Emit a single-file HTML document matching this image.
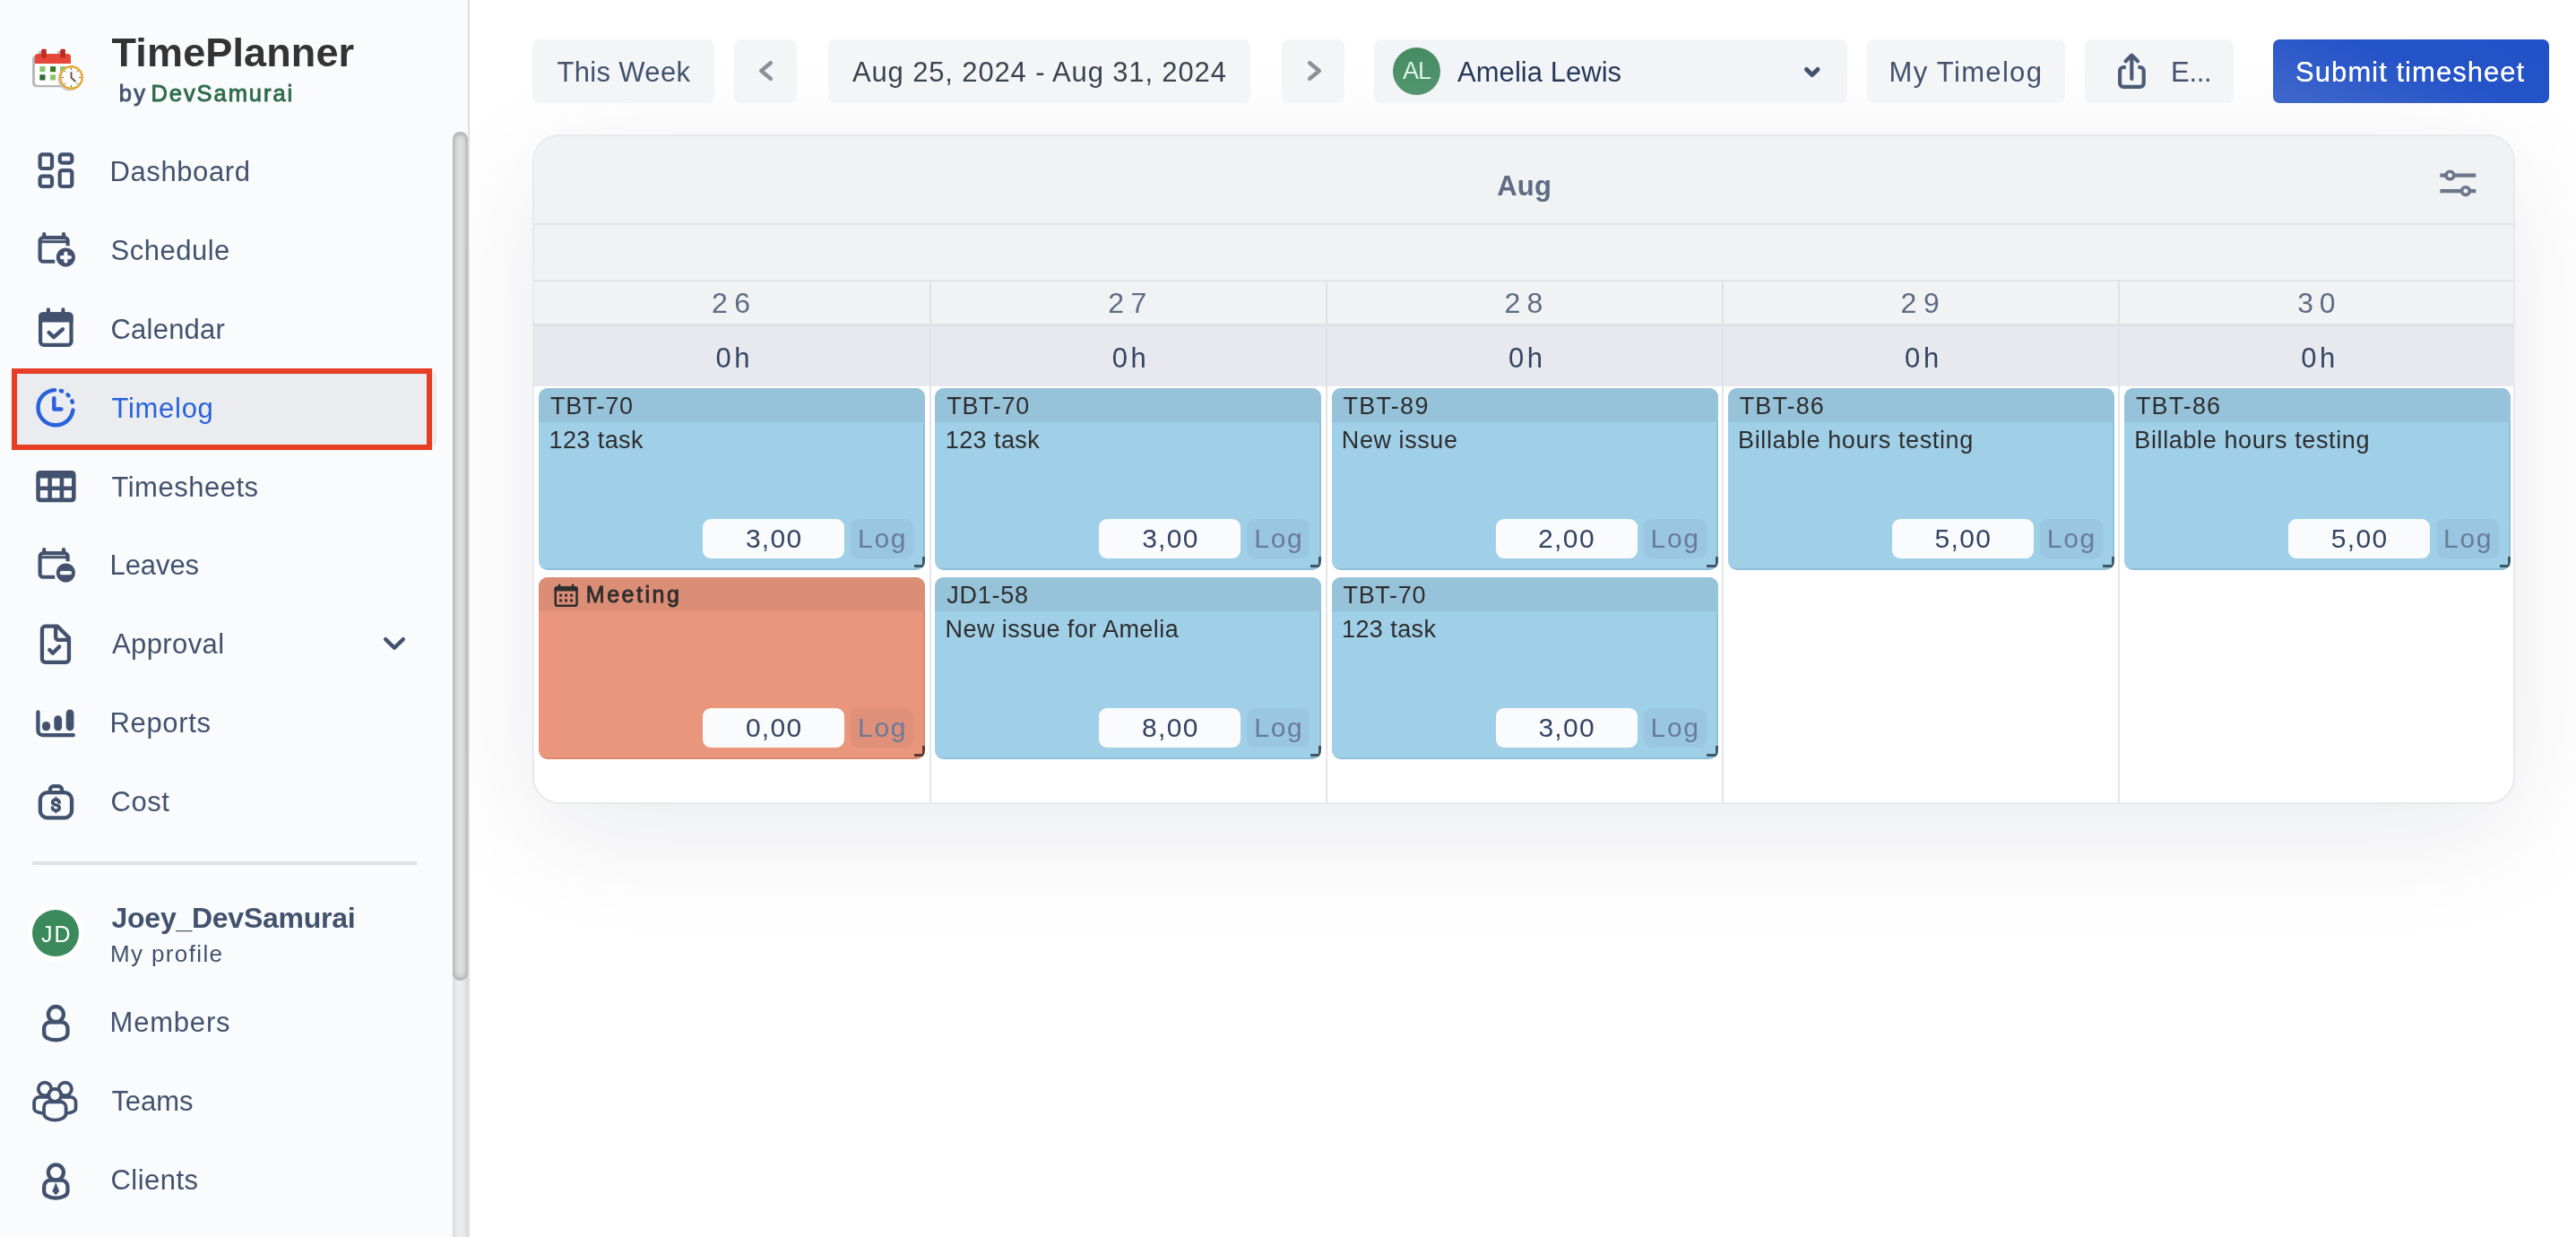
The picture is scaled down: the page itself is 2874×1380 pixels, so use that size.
<!DOCTYPE html><html lang="en"><head><meta charset="utf-8"><title>TimePlanner - Timelog</title><style>
*{box-sizing:border-box;margin:0;padding:0}
html,body{width:2874px;height:1380px;overflow:hidden;background:#fff}
body{will-change:transform}
body{position:relative;font-family:"Liberation Sans", sans-serif;-webkit-font-smoothing:antialiased}
div,span.t,svg{position:absolute}
span.t{white-space:nowrap;line-height:1}
.btn{background:#F4F5F7;border-radius:7px}
.card{border-radius:10px;overflow:hidden}
.card .hd{left:0;top:0;width:100%;height:38px}
.card .inp{left:183px;top:146px;width:158px;height:44px;border-radius:9px;background:#FAFBFC}
.card .log{left:348px;top:146px;width:70px;height:44px;border-radius:9px;background:rgba(9,30,66,.045)}
.card .rs{left:418.5px;top:187.5px;width:12.5px;height:12.5px;border-right:3.5px solid #3f5868;border-bottom:3.5px solid #3f5868}
.blue{background:#A0CFE8;box-shadow:inset -2px -2px 0 rgba(30,80,110,.13)}
.blue .hd{background:#97C3DA}
.red{background:#E9967C;box-shadow:inset -2px -2px 0 rgba(120,40,20,.13)}
.red .hd{background:#DC8D76}
.red .rs{border-color:#5a3a32}
</style></head><body>
<div style="left:594px;top:150px;width:2212px;height:747px;border-radius:30px;box-shadow:0 34px 130px rgba(15,25,55,.085);background:#fff"></div>
<aside>
<div style="left:0px;top:0px;width:524px;height:1380px;background:#FAFBFC;border-right:2px solid #DDDFE4"></div>
<div style="left:505px;top:1080px;width:17px;height:300px;background:linear-gradient(90deg,#d9dadb 0,#e6e7e8 22%,#ecedee 50%,#e6e7e8 75%,#d8d9da 100%)"></div>
<div style="left:505px;top:147px;width:17px;height:947px;border-radius:9px;background:#DEE0E0;box-shadow:inset 0 0 7px rgba(0,0,0,.4)"></div>
<svg style="left:30px;top:48px" width="70" height="58" viewBox="30 48 70 58" fill="none"><rect x="36.1" y="61.6" width="42.9" height="35.6" rx="4.5" fill="#B3B6B8"/><rect x="43.1" y="57" width="4" height="5" fill="#B5BABA"/><rect x="64.2" y="57" width="4" height="5" fill="#B5BABA"/><path d="M38.9 70h40.1v21.9a3 3 0 0 1-3 3H42.4a3.5 3.5 0 0 1-3.5-3.5z" fill="#fff"/><path d="M38.9 71V63.5a3.5 3.5 0 0 1 3.5-3.5H75.5a3.5 3.5 0 0 1 3.5 3.5V71z" fill="#E5483A"/><rect x="46.2" y="54.8" width="5.6" height="9.8" rx="1.2" fill="#BC2B1F"/><rect x="67.3" y="54.8" width="5.6" height="9.8" rx="1.2" fill="#BC2B1F"/><rect x="44.3" y="74" width="6.2" height="6.3" rx=".8" fill="#8DC56F"/><rect x="56" y="74" width="6.2" height="6.3" rx=".8" fill="#3E7B22"/><rect x="67" y="74" width="6.2" height="6.3" rx=".8" fill="#8DC56F"/><rect x="44.3" y="83.3" width="6.2" height="6.3" rx=".8" fill="#2F6A3A"/><rect x="56" y="83.3" width="6.2" height="6.3" rx=".8" fill="#8DC56F"/><circle cx="77.6" cy="88.2" r="13.2" fill="#C3C5C8" opacity=".85"/><circle cx="79.5" cy="86.4" r="12.2" fill="#FBFCFE" stroke="#E8A838" stroke-width="2.5"/><path d="M79.50 77.80L79.50 75.80M85.58 80.32L87.00 78.90M88.10 86.40L90.10 86.40M85.58 92.48L87.00 93.90M79.50 95.00L79.50 97.00M73.42 92.48L72.00 93.90M70.90 86.40L68.90 86.40M73.42 80.32L72.00 78.90" stroke="#6b5645" stroke-width="1"/><path d="M79.5 80.3V86.6L84.3 91" stroke="#5E4A3A" stroke-width="1.8" stroke-linejoin="round"/></svg>
<span class="t" style="left:124.55px;top:35.68px;font-size:45px;color:#333;font-weight:700;letter-spacing:0.130px;">TimePlanner</span>
<span class="t" style="left:132.64px;top:92.40px;font-size:25.5px;color:#44546F;letter-spacing:2.555px;-webkit-text-stroke:.9px #44546F;">by</span>
<span class="t" style="left:168.46px;top:92.40px;font-size:25.5px;color:#2F6B4B;letter-spacing:1.939px;-webkit-text-stroke:.9px #2F6B4B;">DevSamurai</span>
<div style="left:15px;top:412.5px;width:472px;height:86.0px;background:#EBECF0;border-radius:7px"></div>
<div style="left:13px;top:411px;width:469px;height:91px;border:6px solid #E63E24;background:#EBECF0"></div>
<span class="t" style="left:122.52px;top:175.74px;font-size:31px;color:#42526E;letter-spacing:0.594px;">Dashboard</span>
<svg style="left:30px;top:157.0px" width="70" height="70" viewBox="30 -45 70 70" fill="none"><rect x="44.6" y="-29.6" width="13.4" height="15.6" rx="2.6" stroke="#42526E" stroke-width="4.2"/><rect x="66.7" y="-29.6" width="13.6" height="9.2" rx="2.6" stroke="#42526E" stroke-width="4.2"/><rect x="44.6" y="-5.3" width="13.4" height="11.3" rx="2.6" stroke="#42526E" stroke-width="4.2"/><rect x="66.7" y="-11.8" width="13.6" height="17.8" rx="2.6" stroke="#42526E" stroke-width="4.2"/></svg>
<span class="t" style="left:123.61px;top:263.69px;font-size:31px;color:#42526E;letter-spacing:0.481px;">Schedule</span>
<svg style="left:30px;top:244.95px" width="70" height="70" viewBox="30 -45 70 70" fill="none"><path d="M75.6 -15.8V-21.4a3.5 3.5 0 0 0-3.5-3.5H48.1a3.5 3.5 0 0 0-3.5 3.5V-1.75a3.5 3.5 0 0 0 3.5 3.5H61.3" stroke="#42526E" stroke-width="4.2"/><path d="M44.6 -20.3H75.6" stroke="#42526E" stroke-width="3"/><path d="M49.2 -28.9V-25M71 -28.9V-25" stroke="#42526E" stroke-width="4.2" stroke-linecap="round"/><circle cx="73.4" cy="-2.9" r="12.6" fill="#FAFBFC"/><circle cx="73.4" cy="-2.9" r="10.6" fill="#42526E"/><path d="M68.9 -2.9H77.9M73.4 -7.4V1.6" stroke="#FAFBFC" stroke-width="4.2" stroke-linecap="round"/></svg>
<span class="t" style="left:123.45px;top:351.64px;font-size:31px;color:#42526E;letter-spacing:0.236px;">Calendar</span>
<svg style="left:30px;top:332.9px" width="70" height="70" viewBox="30 -45 70 70" fill="none"><rect x="45.1" y="-27.7" width="34.4" height="34.6" rx="3.6" stroke="#42526E" stroke-width="4.2"/><path d="M43 -18.6V-25a4.8 4.8 0 0 1 4.8-4.8H76.8a4.8 4.8 0 0 1 4.8 4.8V-18.6z" fill="#42526E"/><path d="M53.9 -32.6V-28M70.4 -32.6V-28" stroke="#42526E" stroke-width="4.2" stroke-linecap="round"/><path d="M54.6 -7L60 -1.8L69.9 -10.6" stroke="#42526E" stroke-width="4.4" stroke-linecap="round" stroke-linejoin="round"/></svg>
<span class="t" style="left:124.38px;top:439.59px;font-size:31px;color:#2962DB;letter-spacing:0.727px;">Timelog</span>
<svg style="left:30px;top:420.85px" width="70" height="70" viewBox="30 -45 70 70" fill="none"><path d="M61.07 -30.92A19.6 19.6 0 1 0 81.51 -8.62" stroke="#2962DB" stroke-width="4.4" stroke-linecap="round"/><path d="M67.77 -30.11A19.6 19.6 0 0 1 69.19 -29.62M75.42 -25.73A19.6 19.6 0 0 1 76.48 -24.67M80.31 -18.60A19.6 19.6 0 0 1 80.81 -17.18" stroke="#2962DB" stroke-width="4.4" stroke-linecap="round"/><path d="M60.3 -21.8V-9.5H68.4" stroke="#2962DB" stroke-width="4.4" stroke-linecap="round" stroke-linejoin="round"/></svg>
<span class="t" style="left:124.38px;top:527.54px;font-size:31px;color:#42526E;letter-spacing:0.519px;">Timesheets</span>
<svg style="left:30px;top:508.8px" width="70" height="70" viewBox="30 -45 70 70" fill="none"><path d="M44.8 -29.05H80.1a4.5 4.5 0 0 1 4.5 4.5V1.85a4.5 4.5 0 0 1-4.5 4.5H44.8a4.5 4.5 0 0 1-4.5-4.5V-24.55a4.5 4.5 0 0 1 4.5-4.5zM44.8 -20.55V-11.45H53.3V-20.55zM44.8 -6.95V1.55H53.3V-6.95zM57.9 -20.55V-11.45H66.6V-20.55zM57.9 -6.95V1.55H66.6V-6.95zM71.2 -20.55V-11.45H80V-20.55zM71.2 -6.95V1.55H80V-6.95z" fill="#42526E" fill-rule="evenodd"/></svg>
<span class="t" style="left:122.52px;top:615.49px;font-size:31px;color:#42526E;letter-spacing:-0.082px;">Leaves</span>
<svg style="left:30px;top:596.75px" width="70" height="70" viewBox="30 -45 70 70" fill="none"><path d="M75.6 -15.8V-21.4a3.5 3.5 0 0 0-3.5-3.5H48.1a3.5 3.5 0 0 0-3.5 3.5V-1.75a3.5 3.5 0 0 0 3.5 3.5H61.3" stroke="#42526E" stroke-width="4.2"/><path d="M44.6 -20.3H75.6" stroke="#42526E" stroke-width="3"/><path d="M49.2 -28.9V-25M71 -28.9V-25" stroke="#42526E" stroke-width="4.2" stroke-linecap="round"/><circle cx="73.4" cy="-2.9" r="12.6" fill="#FAFBFC"/><circle cx="73.4" cy="-2.9" r="10.6" fill="#42526E"/><path d="M68.9 -2.9H77.9" stroke="#FAFBFC" stroke-width="4.4" stroke-linecap="round"/></svg>
<span class="t" style="left:125.00px;top:703.44px;font-size:31px;color:#42526E;letter-spacing:0.389px;">Approval</span>
<svg style="left:30px;top:684.7px" width="70" height="70" viewBox="30 -45 70 70" fill="none"><path d="M64.2 -31.3H50.45a3.5 3.5 0 0 0-3.5 3.5V5.3a3.5 3.5 0 0 0 3.5 3.5H73.45a3.5 3.5 0 0 0 3.5-3.5V-18.4z" stroke="#42526E" stroke-width="4.3" stroke-linejoin="round"/><path d="M62.1 -31.3V-19.2a3 3 0 0 0 3 3H76.95" stroke="#42526E" stroke-width="4.3"/><path d="M55.2 -5L58.9 -1.2L66.1 -8.6" stroke="#42526E" stroke-width="4.3" stroke-linecap="round" stroke-linejoin="round"/></svg>
<span class="t" style="left:122.52px;top:791.39px;font-size:31px;color:#42526E;letter-spacing:0.636px;">Reports</span>
<svg style="left:30px;top:772.65px" width="70" height="70" viewBox="30 -45 70 70" fill="none"><path d="M42.45 -23.6V-2.95a5 5 0 0 0 5 5H81.85" stroke="#42526E" stroke-width="4.3" stroke-linecap="round"/><rect x="47" y="-13.05" width="9.1" height="10.30" rx="4.35" fill="#42526E"/><rect x="60.3" y="-19.75" width="8.8" height="17.00" rx="4.35" fill="#42526E"/><rect x="73.7" y="-26.45" width="8.7" height="23.70" rx="4.35" fill="#42526E"/></svg>
<span class="t" style="left:123.45px;top:879.34px;font-size:31px;color:#42526E;letter-spacing:0.583px;">Cost</span>
<svg style="left:30px;top:860.6px" width="70" height="70" viewBox="30 -45 70 70" fill="none"><rect x="44.85" y="-21.9" width="35.2" height="28.3" rx="8" stroke="#42526E" stroke-width="4.3"/><path d="M55.85 -21.9V-25a3.9 3.9 0 0 1 3.9-3.9H65.15a3.9 3.9 0 0 1 3.9 3.9V-21.9" stroke="#42526E" stroke-width="4.3"/><path d="M66.2 -10.9C65.6 -13 64.2 -13.9 62.4 -13.9C60.2 -13.9 58.6 -12.7 58.6 -11C58.6 -9 60.3 -8.4 62.4 -7.9C64.6 -7.4 66.3 -6.7 66.3 -4.7C66.3 -2.9 64.6 -1.8 62.4 -1.8C60.4 -1.8 58.9 -2.8 58.4 -4.9" stroke="#42526E" stroke-width="3.6" stroke-linecap="round"/><path d="M62.4 -17.75l2.2 3.6h-4.4zM62.4 1.95l2.2-3.6h-4.4z" fill="#42526E"/></svg>
<svg style="left:424.5px;top:708px" width="30" height="20" viewBox="0 0 30 20" fill="none"><path d="M5.25 5.25 L15.0 14.75 L24.75 5.25" stroke="#42526E" stroke-width="4.5" stroke-linecap="round" stroke-linejoin="round"/></svg>
<div style="left:36px;top:961px;width:429px;height:4px;background:#DFE1E5"></div>
<div style="left:31px;top:1010px;width:62px;height:62px;border-radius:50%;background:#fff"></div>
<div style="left:36px;top:1015px;width:52px;height:52px;border-radius:50%;background:#3C8A5B"></div>
<span class="t" style="left:46.12px;top:1029.83px;font-size:25px;color:#fff;letter-spacing:2.000px;">JD</span>
<span class="t" style="left:124.52px;top:1007.90px;font-size:32px;color:#42526E;font-weight:700;letter-spacing:-0.259px;">Joey_DevSamurai</span>
<span class="t" style="left:122.92px;top:1050.98px;font-size:26px;color:#42526E;letter-spacing:1.379px;">My profile</span>
<span class="t" style="left:122.52px;top:1124.74px;font-size:31px;color:#42526E;letter-spacing:0.799px;">Members</span>
<svg style="left:30px;top:1106px" width="70" height="70" viewBox="30 -45 70 70" fill="none"><g transform="translate(0 0)"><circle cx="62.4" cy="-19.5" r="8.5" stroke="#42526E" stroke-width="4.3"/><path d="M56.15 -10.75H68.45a7 7 0 0 1 7 7V1.5C75.45 6 70 9.25 62.3 9.25S49.15 6 49.15 1.5V-3.75a7 7 0 0 1 7-7z" stroke="#42526E" stroke-width="4.3" stroke-linejoin="round"/></g></svg>
<span class="t" style="left:124.38px;top:1213.24px;font-size:31px;color:#42526E;letter-spacing:-0.023px;">Teams</span>
<svg style="left:30px;top:1194.5px" width="70" height="70" viewBox="30 -45 70 70" fill="none"><circle cx="50" cy="-25.15" r="7.25" stroke="#42526E" stroke-width="3.8"/><circle cx="72.7" cy="-25.15" r="7.25" stroke="#42526E" stroke-width="3.8"/><path d="M53 -16.2H44.1a6 6 0 0 0-6 6V-3.4C38.1 -0.2 42 1.4 47.6 1.9" stroke="#42526E" stroke-width="3.8"/><path d="M69.6 -16.2H78.5a6 6 0 0 1 6 6V-3.4C84.5 -0.2 80.6 1.4 75 1.9" stroke="#42526E" stroke-width="3.8"/><circle cx="61.3" cy="-18.15" r="7" fill="#FAFBFC" stroke="#42526E" stroke-width="3.8"/><path d="M55 -10.75H67.6a6 6 0 0 1 6 6V2C73.6 6.4 68.6 9.55 61.3 9.55S49 6.4 49 2V-4.75a6 6 0 0 1 6-6z" fill="#FAFBFC" stroke="#42526E" stroke-width="3.8" stroke-linejoin="round"/><circle cx="61.3" cy="-18.15" r="7" fill="#FAFBFC" stroke="#42526E" stroke-width="3.8"/></svg>
<span class="t" style="left:123.45px;top:1301.24px;font-size:31px;color:#42526E;letter-spacing:0.488px;">Clients</span>
<svg style="left:30px;top:1282.5px" width="70" height="70" viewBox="30 -45 70 70" fill="none"><g transform="translate(0 -0.6)"><circle cx="62.4" cy="-19.5" r="8.5" stroke="#42526E" stroke-width="4.3"/><path d="M56.15 -10.75H68.45a7 7 0 0 1 7 7V1.5C75.45 6 70 9.25 62.3 9.25S49.15 6 49.15 1.5V-3.75a7 7 0 0 1 7-7z" stroke="#42526E" stroke-width="4.3" stroke-linejoin="round"/></g><path d="M62.3 -8.1L65.9 0.9L62.3 5L58.7 0.9z" fill="#42526E" stroke="#42526E" stroke-width=".6" stroke-linejoin="round"/></svg>
</aside>
<header>
<div class="btn" style="left:594px;top:44px;width:203px;height:71px;"></div>
<span class="t" style="left:621.38px;top:64.74px;font-size:31px;color:#42526E;letter-spacing:0.346px;">This Week</span>
<div class="btn" style="left:819px;top:44px;width:70px;height:71px;"></div>
<svg style="left:844px;top:65px" width="21" height="28" viewBox="0 0 21 28" fill="none"><path d="M15.8 5.2 L5.2 14.0 L15.8 22.8" stroke="#8A919B" stroke-width="4.4" stroke-linecap="round" stroke-linejoin="round"/></svg>
<div class="btn" style="left:924px;top:44px;width:471px;height:71px;"></div>
<span class="t" style="left:951.00px;top:64.74px;font-size:31px;color:#3A4350;letter-spacing:0.852px;">Aug 25, 2024 - Aug 31, 2024</span>
<div class="btn" style="left:1430px;top:44px;width:70px;height:71px;"></div>
<svg style="left:1455.5px;top:65px" width="21" height="28" viewBox="0 0 21 28" fill="none"><path d="M5.2 5.2 L15.8 14.0 L5.2 22.8" stroke="#8A919B" stroke-width="4.4" stroke-linecap="round" stroke-linejoin="round"/></svg>
<div style="left:1533px;top:44px;width:528px;height:71px;background:#F3F4F7;border-radius:7px"></div>
<div style="left:1554px;top:53px;width:53px;height:53px;border-radius:50%;background:linear-gradient(180deg,#458C63,#52956E)"></div>
<span class="t" style="left:1565.00px;top:66.33px;font-size:27px;color:#DDF3E6;letter-spacing:-1.130px;">AL</span>
<span class="t" style="left:1626.00px;top:64.74px;font-size:31px;color:#253858;letter-spacing:0.045px;">Amelia Lewis</span>
<svg style="left:2009.5px;top:72px" width="23.5" height="17" viewBox="0 0 23.5 17" fill="none"><path d="M5.5 5.5 L11.75 11.5 L18.0 5.5" stroke="#42526E" stroke-width="5" stroke-linecap="round" stroke-linejoin="round"/></svg>
<div class="btn" style="left:2083px;top:44px;width:221px;height:71px;"></div>
<span class="t" style="left:2107.52px;top:64.74px;font-size:31px;color:#42526E;letter-spacing:1.326px;">My Timelog</span>
<div class="btn" style="left:2326px;top:44px;width:166px;height:71px;"></div>
<svg style="left:2355px;top:55px" width="45" height="50" viewBox="2355 55 45 50" fill="none"><path d="M2371.8 75H2369.1a4 4 0 0 0-4 4V92.9a4 4 0 0 0 4 4H2387.7a4 4 0 0 0 4-4V79a4 4 0 0 0-4-4H2385.3" stroke="#4C5B76" stroke-width="4.2"/><path d="M2378.3 88V62.4M2371.6 68.2L2378.3 61.6L2385 68.2" stroke="#4C5B76" stroke-width="4.2" stroke-linecap="round" stroke-linejoin="round"/></svg>
<span class="t" style="left:2422.02px;top:64.74px;font-size:31px;color:#42526E;letter-spacing:-0.295px;">E...</span>
<div style="left:2536px;top:44px;width:308px;height:71px;border-radius:7px;background:linear-gradient(200deg,#2250C6 0,#2554C8 45%,#4168CB 100%)"></div>
<span class="t" style="left:2561.11px;top:64.74px;font-size:31px;color:#fff;letter-spacing:1.038px;text-shadow:0 0 .6px #fff;">Submit timesheet</span>
</header>
<main>
<div style="left:594px;top:150px;width:2212px;height:747px;border-radius:30px;overflow:hidden;border:2px solid #E7E9ED;background:#fff">
<div style="left:0px;top:0px;width:2208px;height:209px;background:#F1F2F4"></div>
<div style="left:0px;top:97px;width:2208px;height:2px;background:#E2E4E8"></div>
<div style="left:0px;top:160px;width:2208px;height:2px;background:#E2E4E8"></div>
<div style="left:0px;top:209px;width:2208px;height:4px;background:#E0E2E7"></div>
<div style="left:0px;top:213px;width:2208px;height:66px;background:#E7E9EE"></div>
<div style="left:441px;top:162px;width:2px;height:117px;background:#DFE1E6"></div>
<div style="left:441px;top:279px;width:2px;height:465px;background:#E3E5EA"></div>
<div style="left:883px;top:162px;width:2px;height:117px;background:#DFE1E6"></div>
<div style="left:883px;top:279px;width:2px;height:465px;background:#E3E5EA"></div>
<div style="left:1325px;top:162px;width:2px;height:117px;background:#DFE1E6"></div>
<div style="left:1325px;top:279px;width:2px;height:465px;background:#E3E5EA"></div>
<div style="left:1767px;top:162px;width:2px;height:117px;background:#DFE1E6"></div>
<div style="left:1767px;top:279px;width:2px;height:465px;background:#E3E5EA"></div>
</div>
<span class="t" style="left:1670.22px;top:191.74px;font-size:31px;color:#5E6C84;font-weight:700;letter-spacing:0.247px;">Aug</span>
<svg style="left:2715px;top:185px" width="55" height="40" viewBox="2715 185 55 40" fill="none"><path d="M2722.4 195.6H2729.2M2737.6 195.6H2762.3M2722.4 213.1H2746.7M2755.1 213.1H2762.3" stroke="#6B778C" stroke-width="4.2"/><circle cx="2733.4" cy="195.6" r="4.35" stroke="#6B778C" stroke-width="3.7"/><circle cx="2750.9" cy="213.1" r="4.35" stroke="#6B778C" stroke-width="3.7"/></svg>
<span class="t" style="left:794.00px;top:321.90px;font-size:32px;color:#5E6C84;letter-spacing:7.360px;">26</span>
<span class="t" style="left:798.51px;top:383.74px;font-size:31px;color:#344563;letter-spacing:3.535px;">0h</span>
<span class="t" style="left:1236.20px;top:321.90px;font-size:32px;color:#5E6C84;letter-spacing:7.520px;">27</span>
<span class="t" style="left:1240.72px;top:383.74px;font-size:31px;color:#344563;letter-spacing:3.535px;">0h</span>
<span class="t" style="left:1678.40px;top:321.90px;font-size:32px;color:#5E6C84;letter-spacing:7.360px;">28</span>
<span class="t" style="left:1682.91px;top:383.74px;font-size:31px;color:#344563;letter-spacing:3.535px;">0h</span>
<span class="t" style="left:2120.60px;top:321.90px;font-size:32px;color:#5E6C84;letter-spacing:7.520px;">29</span>
<span class="t" style="left:2125.11px;top:383.74px;font-size:31px;color:#344563;letter-spacing:3.535px;">0h</span>
<span class="t" style="left:2563.28px;top:321.90px;font-size:32px;color:#5E6C84;letter-spacing:6.720px;">30</span>
<span class="t" style="left:2567.32px;top:383.74px;font-size:31px;color:#344563;letter-spacing:3.535px;">0h</span>
<div class="card blue" style="left:601.0px;top:433px;width:431px;height:202.5px"><div class="hd"></div><div class="inp"></div><div class="log"></div><div class="rs"></div></div>
<span class="t" style="left:613.96px;top:439.63px;font-size:27px;color:#2e2e2e;letter-spacing:0.685px;">TBT-70</span>
<span class="t" style="left:612.48px;top:477.63px;font-size:27px;color:#2e2e2e;letter-spacing:0.424px;">123 task</span>
<span class="t" style="left:831.95px;top:585.59px;font-size:30px;color:#344563;letter-spacing:1.250px;">3,00</span>
<span class="t" style="left:957.10px;top:585.59px;font-size:30px;color:#6B7A99;letter-spacing:1.625px;">Log</span>
<div class="card blue" style="left:1043.25px;top:433px;width:431px;height:202.5px"><div class="hd"></div><div class="inp"></div><div class="log"></div><div class="rs"></div></div>
<span class="t" style="left:1056.21px;top:439.63px;font-size:27px;color:#2e2e2e;letter-spacing:0.685px;">TBT-70</span>
<span class="t" style="left:1054.72px;top:477.63px;font-size:27px;color:#2e2e2e;letter-spacing:0.424px;">123 task</span>
<span class="t" style="left:1274.20px;top:585.59px;font-size:30px;color:#344563;letter-spacing:1.250px;">3,00</span>
<span class="t" style="left:1399.35px;top:585.59px;font-size:30px;color:#6B7A99;letter-spacing:1.625px;">Log</span>
<div class="card blue" style="left:1485.5px;top:433px;width:431px;height:202.5px"><div class="hd"></div><div class="inp"></div><div class="log"></div><div class="rs"></div></div>
<span class="t" style="left:1498.46px;top:439.63px;font-size:27px;color:#2e2e2e;letter-spacing:1.289px;">TBT-89</span>
<span class="t" style="left:1496.84px;top:477.63px;font-size:27px;color:#2e2e2e;letter-spacing:0.565px;">New issue</span>
<span class="t" style="left:1716.00px;top:585.59px;font-size:30px;color:#344563;letter-spacing:1.400px;">2,00</span>
<span class="t" style="left:1841.60px;top:585.59px;font-size:30px;color:#6B7A99;letter-spacing:1.625px;">Log</span>
<div class="card blue" style="left:1927.75px;top:433px;width:431px;height:202.5px"><div class="hd"></div><div class="inp"></div><div class="log"></div><div class="rs"></div></div>
<span class="t" style="left:1940.71px;top:439.63px;font-size:27px;color:#2e2e2e;letter-spacing:1.112px;">TBT-86</span>
<span class="t" style="left:1939.09px;top:477.63px;font-size:27px;color:#2e2e2e;letter-spacing:0.617px;">Billable hours testing</span>
<span class="t" style="left:2158.55px;top:585.59px;font-size:30px;color:#344563;letter-spacing:1.300px;">5,00</span>
<span class="t" style="left:2283.85px;top:585.59px;font-size:30px;color:#6B7A99;letter-spacing:1.625px;">Log</span>
<div class="card blue" style="left:2370.0px;top:433px;width:431px;height:202.5px"><div class="hd"></div><div class="inp"></div><div class="log"></div><div class="rs"></div></div>
<span class="t" style="left:2382.96px;top:439.63px;font-size:27px;color:#2e2e2e;letter-spacing:1.112px;">TBT-86</span>
<span class="t" style="left:2381.34px;top:477.63px;font-size:27px;color:#2e2e2e;letter-spacing:0.617px;">Billable hours testing</span>
<span class="t" style="left:2600.80px;top:585.59px;font-size:30px;color:#344563;letter-spacing:1.300px;">5,00</span>
<span class="t" style="left:2726.10px;top:585.59px;font-size:30px;color:#6B7A99;letter-spacing:1.625px;">Log</span>
<div class="card red" style="left:601.0px;top:644.25px;width:431px;height:202.5px"><div class="hd"></div><div class="inp"></div><div class="log"></div><div class="rs"></div></div>
<svg style="left:601.0px;top:644.65px" width="60" height="40" viewBox="0 0 60 40" fill="none"><rect x="18.75" y="10.25" width="23.8" height="20.6" rx="2.4" stroke="#2e2e2e" stroke-width="2.5"/><path d="M17.5 14.5V12.0a3 3 0 0 1 3-3H40.799999999999955a3 3 0 0 1 3 3V14.5z" fill="#2e2e2e"/><path d="M23.100000000000023 7.7000000000000455V10.5M38 7.7000000000000455V10.5" stroke="#2e2e2e" stroke-width="2.6" stroke-linecap="round"/><rect x="23.10" y="17.60" width="3" height="3" fill="#2e2e2e"/><rect x="23.10" y="23.40" width="3" height="3" fill="#2e2e2e"/><rect x="29.00" y="17.60" width="3" height="3" fill="#2e2e2e"/><rect x="29.00" y="23.40" width="3" height="3" fill="#2e2e2e"/><rect x="35.00" y="17.60" width="3" height="3" fill="#2e2e2e"/><rect x="35.00" y="23.40" width="3" height="3" fill="#2e2e2e"/></svg>
<span class="t" style="left:653.80px;top:651.28px;font-size:25px;color:#2e2e2e;letter-spacing:2.537px;-webkit-text-stroke:.85px #2e2e2e;">Meeting</span>
<span class="t" style="left:831.95px;top:796.84px;font-size:30px;color:#344563;letter-spacing:1.250px;">0,00</span>
<span class="t" style="left:957.10px;top:796.84px;font-size:30px;color:#6B7A99;letter-spacing:1.625px;">Log</span>
<div class="card blue" style="left:1043.25px;top:644.25px;width:431px;height:202.5px"><div class="hd"></div><div class="inp"></div><div class="log"></div><div class="rs"></div></div>
<span class="t" style="left:1056.35px;top:650.88px;font-size:27px;color:#2e2e2e;letter-spacing:0.742px;">JD1-58</span>
<span class="t" style="left:1054.59px;top:688.88px;font-size:27px;color:#2e2e2e;letter-spacing:0.420px;">New issue for Amelia</span>
<span class="t" style="left:1274.05px;top:796.84px;font-size:30px;color:#344563;letter-spacing:1.300px;">8,00</span>
<span class="t" style="left:1399.35px;top:796.84px;font-size:30px;color:#6B7A99;letter-spacing:1.625px;">Log</span>
<div class="card blue" style="left:1485.5px;top:644.25px;width:431px;height:202.5px"><div class="hd"></div><div class="inp"></div><div class="log"></div><div class="rs"></div></div>
<span class="t" style="left:1498.46px;top:650.88px;font-size:27px;color:#2e2e2e;letter-spacing:0.685px;">TBT-70</span>
<span class="t" style="left:1496.97px;top:688.88px;font-size:27px;color:#2e2e2e;letter-spacing:0.424px;">123 task</span>
<span class="t" style="left:1716.45px;top:796.84px;font-size:30px;color:#344563;letter-spacing:1.250px;">3,00</span>
<span class="t" style="left:1841.60px;top:796.84px;font-size:30px;color:#6B7A99;letter-spacing:1.625px;">Log</span>
</main>
</body></html>
